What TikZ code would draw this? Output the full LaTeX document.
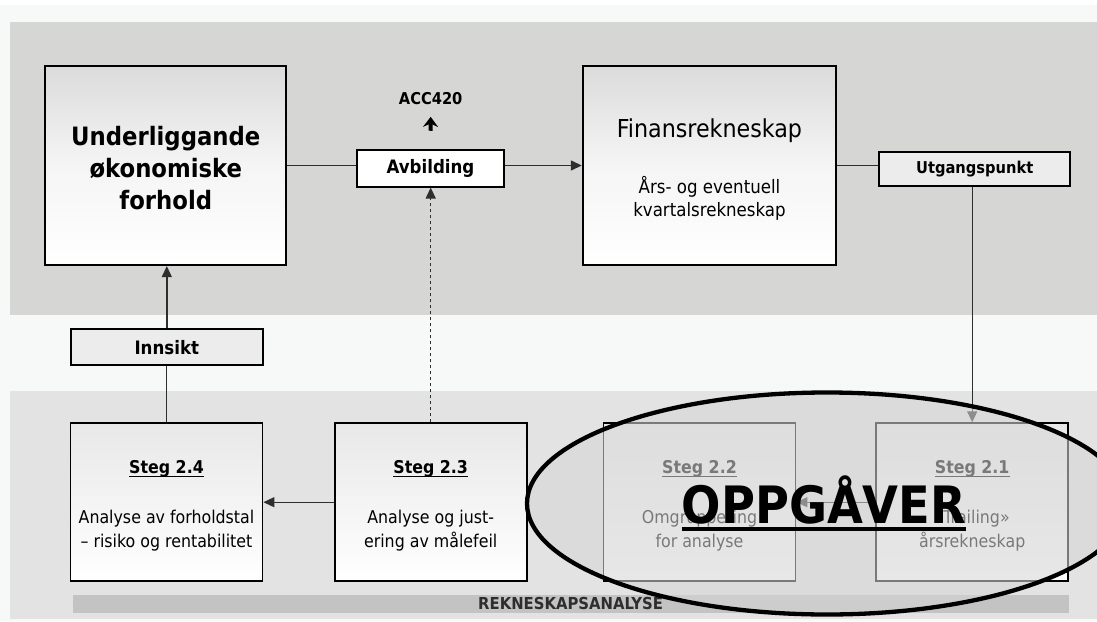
\documentclass[tikz,border=0pt]{standalone}
\usepackage{fontspec}
\setmainfont{DejaVu Sans Condensed}
\usetikzlibrary{arrows.meta,shapes.geometric}

\definecolor{bandgray}{HTML}{D6D6D4}
\definecolor{palegray}{HTML}{F7F9F8}
\definecolor{lowgray}{HTML}{E3E3E3}
\definecolor{bargray}{HTML}{C3C3C3}
\definecolor{labelfill}{HTML}{ECECEC}
\definecolor{linegray}{HTML}{2E2E2E}
\definecolor{veilgray}{HTML}{D6D6D6}

% underline with a chosen depth and thickness
\newcommand{\ulbar}[3]{\setbox0=\hbox{#3}\leavevmode\rlap{\copy0}\raisebox{-#1}{\rule{\wd0}{#2}}}

\tikzset{
  bigbox/.style={draw=black, line width=1.8pt, top color=black!14, bottom color=white,
    middle color=black!4, align=center, inner sep=0pt},
  stegbox/.style={draw=black, line width=1.8pt, top color=black!9, bottom color=white,
    align=center, minimum width=192pt, minimum height=158pt, inner sep=0pt,
    font=\fontsize{17.6}{23.3}\selectfont},
  labelbox/.style={draw=black, line width=1.8pt, fill=labelfill, inner sep=0pt},
  conn/.style={draw=linegray, line width=1.4pt},
  arr/.style={conn, -{Triangle[length=11pt,width=10pt]}},
}

\begin{document}
\begin{tikzpicture}[x=1pt,y=-1pt]
  \useasboundingbox (0,0) rectangle (1097,621);
  % background bands
  \fill[white] (0,0) rectangle (1097,621);
  \fill[palegray] (0,5) rectangle (1097,621);
  \fill[bandgray] (10,22) rectangle (1097,315);
  \fill[lowgray] (10,391) rectangle (1097,619);

  % upper row
  \node[bigbox, minimum width=241pt, minimum height=199pt,
        font=\bfseries\fontsize{25.3}{32}\selectfont] (und) at (165.8,165.7)
        {\rule{0pt}{23pt}Underliggande\\økonomiske\\forhold};
  \node[bigbox, minimum width=253.6pt, minimum height=199pt,
        font=\fontsize{18.5}{23.3}\selectfont] (fin) at (709.5,165.5)
        {\rule{0pt}{27pt}{\fontsize{24.7}{30}\selectfont Finansrekneskap}\\[33pt]Års- og eventuell\\kvartalsrekneskap};
  \node[labelbox, fill=white, minimum width=146.4pt, minimum height=36.7pt,
        font=\bfseries\fontsize{18.5}{22}\selectfont] (avb) at (430.5,168.3) {Avbilding};
  \node[labelbox, minimum width=191.3pt, minimum height=33.7pt,
        font=\bfseries\fontsize{16.3}{20}\selectfont] (utg) at (974.7,168.8) {Utgangspunkt};
  \node[font=\bfseries\fontsize{16.3}{20}\selectfont, inner sep=0pt] (acc) at (430.7,98.5) {ACC420};
  \node[labelbox, minimum width=191.7pt, minimum height=36pt,
        font=\bfseries\fontsize{18.5}{22}\selectfont] (inn) at (166.8,347.3) {Innsikt};

  % lower row
  \node[stegbox] (s24) at (166.5,502.2)
    {\rule{0pt}{20pt}\textbf{\ulbar{3.3pt}{1.3pt}{Steg 2.4}}\\[27pt]Analyse av forholdstal\\– risiko og rentabilitet};
  \node[stegbox] (s23) at (430.7,502.2)
    {\rule{0pt}{20pt}\textbf{\ulbar{3.3pt}{1.3pt}{Steg 2.3}}\\[27pt]Analyse og just-\\ering av målefeil};
  \node[stegbox] (s22) at (699.5,502.2)
    {\rule{0pt}{20pt}\textbf{\ulbar{3.3pt}{1.3pt}{Steg 2.2}}\\[27pt]Omgruppering\\for analyse};
  \node[stegbox] (s21) at (972.2,502.2)
    {\rule{0pt}{20pt}\textbf{\ulbar{3.3pt}{1.3pt}{Steg 2.1}}\\[27pt]«Trailing»\\årsrekneskap};

  \node[fill=bargray, minimum width=995.8pt, minimum height=17.7pt, inner sep=0pt,
        font=\bfseries\fontsize{16.5}{17}\selectfont, text=linegray] (bar) at (570.6,603.8)
        {REKNESKAPSANALYSE};

  % connectors
  \draw[conn] (und.east) -- (und.east -| avb.west);
  \draw[arr] (fin.west -| avb.east) -- (fin.west);
  \draw[conn] (fin.east) -- (fin.east -| utg.west);
  \draw[arr] (s21.north |- utg.south) -- (s21.north);
  \draw[arr] (inn.north) -- (inn.north |- und.south);
  \draw[conn] (s24.north) -- (s24.north |- inn.south);
  \draw[arr] (s23.west) -- (s24.east);
  \draw[arr] (s21.west) -- (s22.east);
  \draw[arr, dashed] (s23.north) -- (s23.north |- avb.south);
  \draw[line width=4pt, -{Stealth[length=10pt,width=15pt]}]
        ([yshift=18.3pt]avb.north) -- ([yshift=-12pt]acc.south);

  % tasks ellipse with translucent veil
  \fill[veilgray, fill opacity=0.57] (827,503.5) ellipse [x radius=300pt, y radius=111pt];
  \draw[black, line width=4.3pt] (827,503.5) ellipse [x radius=300pt, y radius=111pt];
  \node[font=\bfseries\fontsize{51.5}{60}\selectfont, inner sep=0pt, anchor=base] (opp) at (824,523.3)
        {\ulbar{7.2pt}{4pt}{OPPGÅVER}};
\end{tikzpicture}
\end{document}
